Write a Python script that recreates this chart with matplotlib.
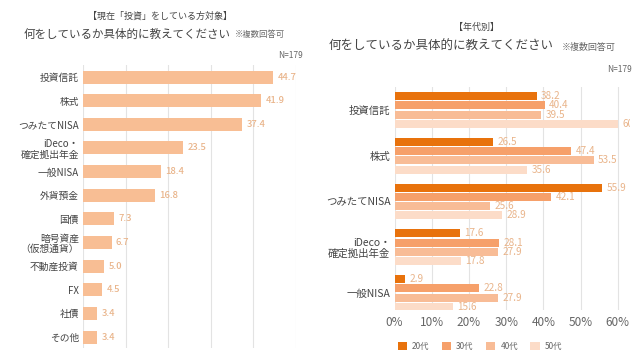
import numpy as np
import matplotlib.pyplot as plt

plt.rcParams['font.family'] = ['Noto Sans CJK JP', 'DejaVu Sans']

# left chart data
items = ['投資信託', '株式', 'つみたてNISA', 'iDeco・\n確定拠出年金', '一般NISA', '外貨預金',
         '国債', '暗号資産\n（仮想通貨）', '不動産投資', 'FX', '社債', 'その他']
share = [44.7, 41.9, 37.4, 23.5, 18.4, 16.8, 7.3, 6.7, 5.0, 4.5, 3.4, 3.4]

# right chart data
groups = ['投資信託', '株式', 'つみたてNISA', 'iDeco・\n確定拠出年金', '一般NISA']
ages = ['20代', '30代', '40代', '50代']
age20 = [38.2, 26.5, 55.9, 17.6, 2.9]
age30 = [40.4, 47.4, 42.1, 28.1, 22.8]
age40 = [39.5, 53.5, 25.6, 27.9, 27.9]
age50 = [60.0, 35.6, 28.9, 17.8, 15.6]
age_cols = ['#E8720C', '#F6A06A', '#F8BC96', '#FCDCC8']

W, H = 640, 363
fig = plt.figure(figsize=(W / 100, H / 100), dpi=100)
grid_c = '#E3E3E3'
lab_c = '#E9B48A'
txt_c = '#444444'


def px(x0, y0, x1, y1):
    return [x0 / W, 1 - y1 / H, (x1 - x0) / W, (y1 - y0) / H]


# ---- left chart
ax = fig.add_axes(px(83, 65, 296, 348))
y = np.arange(len(items))
ax.barh(y, share, height=0.55, color='#F8BE94', zorder=2)
for yi, v in zip(y, share):
    ax.text(v + 1.0, yi, f'{v:.1f}', va='center', ha='left', fontsize=6.8,
            color=lab_c, fontweight='medium')
ax.set_xlim(0, 50)
ax.set_ylim(11.465, -0.508)
ax.set_xticks(np.arange(0, 51, 10))
ax.grid(axis='x', color=grid_c, lw=0.8, zorder=0)
ax.set_yticks(y)
ax.set_yticklabels(items, fontsize=7, color=txt_c, linespacing=1.1)
ax.tick_params(length=0, pad=3, labelbottom=False)
for s in ax.spines.values():
    s.set_visible(False)

fig.text(160 / W, 1 - 16 / H, '【現在「投資」をしている方対象】', ha='center', va='center',
         fontsize=6.5, color=txt_c)
fig.text(231 / W, 1 - 34 / H, '何をしているか具体的に教えてください', ha='right', va='center',
         fontsize=8.3, color=txt_c)
fig.text(235 / W, 1 - 35 / H, '※複数回答可', ha='left', va='center', fontsize=6, color='#666666')
fig.text(303 / W, 1 - 56 / H, 'N=179', ha='right', va='center', fontsize=6, color='#666666')

# ---- right chart
ax2 = fig.add_axes(px(394.6, 87, 630, 310))
g = np.arange(len(groups))
series = [age20, age30, age40, age50]
for k, (vals, col, name) in enumerate(zip(series, age_cols, ages)):
    yy = g + (k - 1.5) * 0.203
    ax2.barh(yy, vals, height=0.175, color=col, zorder=2, label=name)
    for yi, v in zip(yy, vals):
        ax2.text(v + 1.2, yi, f'{v:.1f}', va='center', ha='left', fontsize=7.2,
                 color=lab_c, clip_on=True)
ax2.set_xlim(0, 63.3)
ax2.set_ylim(4.37, -0.503)
ax2.set_xticks(np.arange(0, 61, 10))
ax2.set_xticklabels([f'{t}%' for t in range(0, 61, 10)], fontsize=8.5, color='#666666')
ax2.grid(axis='x', color=grid_c, lw=0.8, zorder=0)
ax2.set_yticks(g)
ax2.set_yticklabels(groups, fontsize=7.5, color=txt_c, linespacing=1.1)
ax2.tick_params(length=0, pad=3)
ax2.tick_params(axis='x', pad=4)
for s in ax2.spines.values():
    s.set_visible(False)

fig.text(477 / W, 1 - 27 / H, '【年代別】', ha='center', va='center', fontsize=6.5, color=txt_c)
fig.text(554 / W, 1 - 46 / H, '何をしているか具体的に教えてください', ha='right', va='center',
         fontsize=9, color=txt_c)
fig.text(562 / W, 1 - 47 / H, '※複数回答可', ha='left', va='center', fontsize=6.5, color='#666666')
fig.text(632 / W, 1 - 70 / H, 'N=179', ha='right', va='center', fontsize=6, color='#666666')

fig.legend(loc='center', bbox_to_anchor=(480 / W, 1 - 346 / H), ncol=4, frameon=False,
           fontsize=6, handlelength=1.1, handleheight=1.1, handletextpad=0.6,
           columnspacing=1.5, labelcolor='#666666')

fig.savefig('out.png', dpi=100)
